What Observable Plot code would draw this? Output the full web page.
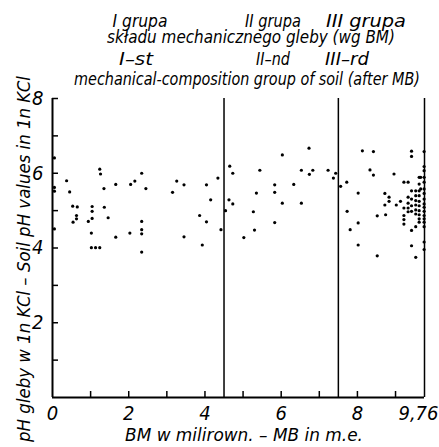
<!DOCTYPE html>
<html><head><meta charset="utf-8">
<script src="https://cdn.jsdelivr.net/npm/d3@7"></script>
<script src="https://cdn.jsdelivr.net/npm/@observablehq/plot@0.6"></script>
<style>
html,body{margin:0;padding:0;background:#fff;}
</style></head>
<body><div id="wrap"></div>
<script>
// ---- data: [BM (m.e.), pH in 1n KCl] ----
const groupI = [
  [0.05,6.41],[0.05,5.62],[0.05,5.52],[0.05,4.51],
  [0.37,5.80],[0.45,5.50],[0.53,5.12],[0.65,5.10],[0.63,4.87],[0.63,4.78],[0.54,4.69],
  [1.24,6.11],[1.26,5.98],[1.35,5.59],[1.04,5.11],[1.04,4.98],[1.04,4.79],[0.94,4.71],
  [1.36,5.09],[1.46,4.81],[1.02,4.40],[1.02,4.01],[1.13,4.01],[1.24,4.01],
  [1.66,5.70],[1.66,4.29],[2.05,5.70],[2.16,5.79],[2.34,6.00],[2.45,5.59],[2.34,4.71],
  [2.34,4.49],[2.34,4.38],[2.03,4.40],[2.34,3.89],
  [3.15,5.49],[3.26,5.79],[3.45,5.69],[3.45,4.30],[3.86,4.87],[4.04,5.69],[4.15,5.29],
  [4.04,4.70],[3.93,4.08],[4.34,5.87],[4.42,4.49]
];
const groupII = [
  [4.65,6.19],[4.73,6.00],[4.63,5.29],[4.73,5.18],[4.54,5.00],
  [5.02,4.28],[5.27,4.97],[5.30,4.48],[5.35,5.47],[5.44,6.08],[5.83,5.69],[5.83,5.49],
  [5.83,4.68],[6.03,6.49],[6.03,5.20],[6.33,5.70],[6.53,6.08],[6.53,5.20],[6.73,6.67],
  [6.74,5.97],[6.83,6.08],[7.23,6.08],[7.43,6.00],[7.37,5.87]
];
const groupIII = [
  [7.56,5.65],[7.72,5.76],[7.73,4.98],[7.81,4.49],[8.02,5.47],[8.02,4.67],[8.02,4.08],
  [8.13,6.60],[8.33,6.09],[8.42,6.58],[8.42,5.95],[8.52,4.86],[8.52,3.79],
  [8.72,5.46],[8.83,5.36],[8.83,5.25],[8.72,5.15],[8.74,4.89],
  [8.96,5.98],[9.02,5.15],[9.13,5.25],[9.22,5.76],[9.33,5.76],
  [9.22,5.07],[9.22,4.87],[9.22,4.76],[9.22,4.64],
  [9.33,5.36],[9.33,5.20],[9.33,5.07],[9.33,4.97],
  [9.42,6.59],[9.42,6.45],[9.42,5.53],[9.42,5.31],[9.42,5.13],[9.42,4.98],[9.42,4.47],[9.42,4.06],
  [9.53,5.53],[9.53,5.40],[9.53,5.27],[9.53,5.15],[9.53,5.02],[9.53,4.91],[9.53,4.57],[9.53,3.75],
  [9.62,5.89],[9.62,5.71],[9.62,5.53],[9.62,5.40],[9.62,5.25],[9.62,5.13],[9.62,5.00],
  [9.62,4.89],[9.62,4.78],[9.62,4.69],[9.66,5.89],[9.66,5.58],
  [9.75,6.58],[9.75,6.18],[9.75,6.07],[9.75,5.89],[9.75,5.76],[9.75,5.58],[9.75,5.46],
  [9.75,5.31],[9.75,5.18],[9.75,5.09],[9.75,4.98],[9.75,4.87],[9.75,4.78],[9.75,4.69],
  [9.75,4.57],[9.75,4.16],[9.75,3.96]
];
const groupBounds = [4.5, 7.5];
const xMax = 9.76;
const yMax = 8;
const xTickMarks = [1,2,3,4,5,6,7,8,9];
const xTickLabels = [0,2,4,6,8];
const xEndLabel = [9.76];
const yTickMarks = [1,2,3,4,5,6,7,8];
const yTickLabels = [2,4,6,8];
const groupTitlesPL = ["I grupa","II grupa","III grupa"];
const groupTitlesEN = ["I–st","II–nd","III–rd"];
const subtitlePL = "składu mechanicznego gleby (wg BM)";
const subtitleEN = "mechanical-composition group of soil (after MB)";
const xTitle = "BM w milirown. – MB in m.e.";
const yTitle = "pH gleby w 1n KCl – Soil pH values in 1n KCl";

const points = [...groupI, ...groupII, ...groupIII].map(([bm, ph]) => ({bm, ph}));

const fam = "DejaVu Sans Condensed, DejaVu Sans, sans-serif";
const font = {fontFamily: fam, fontStyle: "italic", fontSize: 20};
const plot = Plot.plot({
  width: 439, height: 447,
  marginLeft: 52, marginRight: 15, marginTop: 98, marginBottom: 50,
  style: {fontFamily: fam, fontStyle: "italic", fontSize: "20px", color: "#000", background: "#fff"},
  x: {domain: [0, xMax]},
  y: {domain: [0, yMax]},
  marks: [
    Plot.ruleX(groupBounds, {stroke: "#000", strokeWidth: 1.5}),
    Plot.ruleX([xMax], {stroke: "#000", strokeWidth: 1.5}),
    Plot.ruleX([0], {stroke: "#000", strokeWidth: 2}),
    Plot.ruleY([0], {stroke: "#000", strokeWidth: 2}),
    Plot.axisX(xTickMarks, {tickSize: 6, dy: -6, tickFormat: () => "", strokeWidth: 1.5, label: null}),
    Plot.axisX(xTickLabels, {tickSize: 0, tickPadding: 8, label: null, ...font}),
    Plot.axisX(xEndLabel, {tickSize: 0, tickPadding: 8, label: null, ...font, textAnchor: "end", dx: 14,
      tickFormat: d => String(d).replace(".", ",")}),
    Plot.axisY(yTickMarks, {tickSize: 6, dx: 6, tickFormat: () => "", strokeWidth: 1.5, label: null}),
    Plot.axisY(yTickLabels, {tickSize: 0, tickPadding: 9, label: null, ...font}),
    Plot.dot(points, {x: "bm", y: "ph", r: 1.6, fill: "#000", stroke: null})
  ]
});
document.getElementById("wrap").appendChild(plot);

// titles and axis titles: fitted to width by a horizontal scale (no textLength)
const svg = d3.select(plot);
function txt(s, x, y, size, len, rot) {
  const g = svg.append("g");
  const t = g.append("text")
    .attr("x", 0).attr("y", 0)
    .attr("text-anchor", "middle")
    .style("font-family", fam)
    .style("font-style", "italic")
    .style("font-size", size + "px")
    .style("fill", "#000")
    .text(s);
  let k = 1;
  try { const w = t.node().getComputedTextLength(); if (w > 0 && len) k = len / w; } catch (e) {}
  g.attr("transform", `translate(${x},${y})` + (rot ? ` rotate(${rot})` : "") + ` scale(${k},1)`);
}
const gx1 = [140, 273, 366], gw1 = [55, 56, 80];
groupTitlesPL.forEach((s, i) => txt(s, gx1[i], 27, 17, gw1[i]));
txt(subtitlePL, 251, 43, 17, 288);
const gx2 = [136, 273, 347], gw2 = [34, 34, 44];
groupTitlesEN.forEach((s, i) => txt(s, gx2[i], 65, 17, gw2[i]));
txt(subtitleEN, 247, 85, 17, 346);
txt(xTitle, 244, 441, 18, 238);
txt(yTitle, 30, 259, 18, 366, -90);
</script>
</body></html>
